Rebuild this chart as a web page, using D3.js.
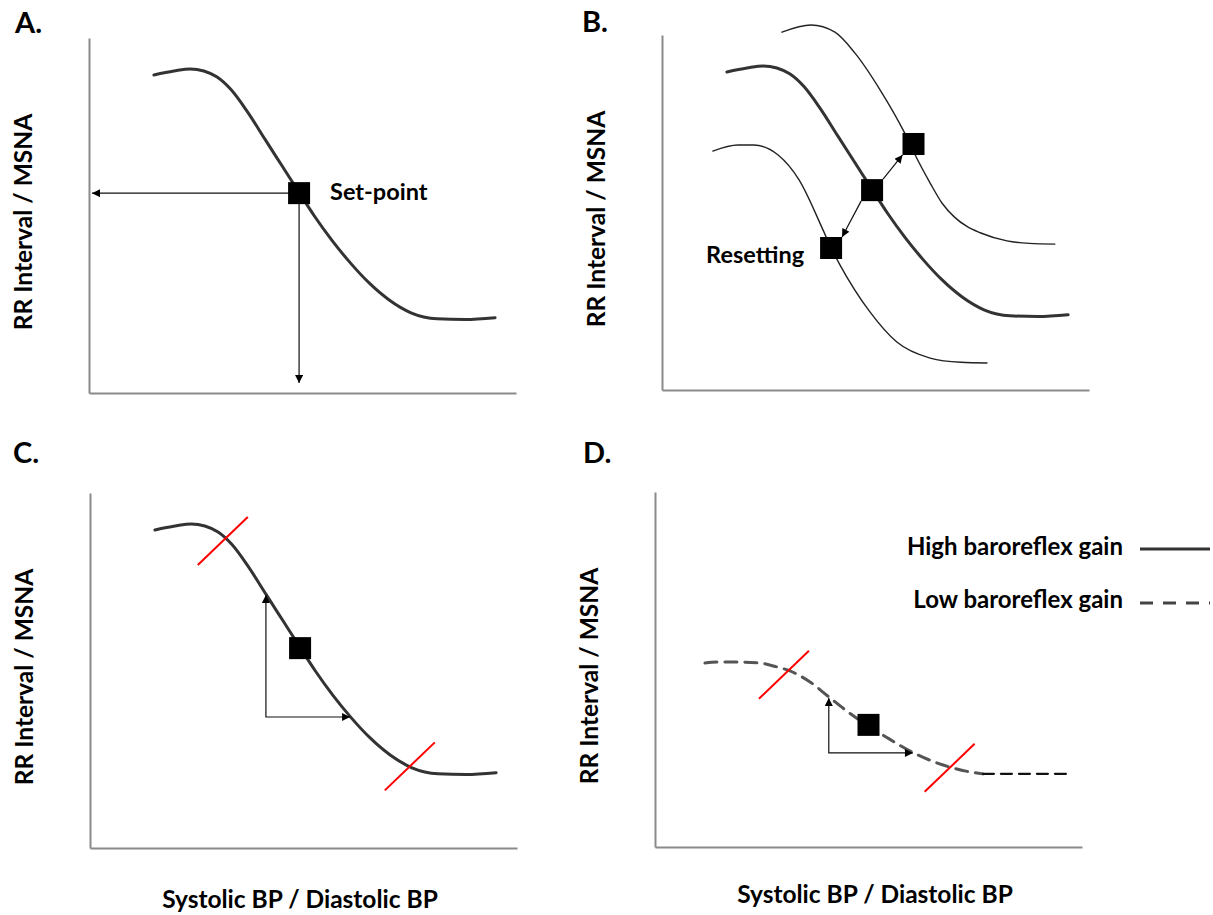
<!DOCTYPE html>
<html>
<head>
<meta charset="utf-8">
<script src="https://cdn.jsdelivr.net/npm/d3@7"></script>
<style>
  body { margin: 0; background: #fff; }
  text { font-family: Lato, 'Open Sans', sans-serif; font-weight: 700; fill: #000; }
</style>
</head>
<body>
<div id="chart"></div>
<script>
// all values in arbitrary units, 0-100 on both axes of every panel
const baseCurve = [[15.2,89.6],[19.9,90.7],[23.7,91.3],[26.9,90.7],[30.0,89.0],[33.3,85.4],[37.0,79.4],
	[41.2,71.5],[45.2,64.0],[49.2,56.5],[52.7,50.0],[56.9,43.0],[61.1,36.8],[65.6,31.0],[70.3,26.2],
	[75.4,22.6],[81.5,20.9],[88.1,20.7],[95.1,21.2]]
const setPoint = [49.2, 56.3]
const setPointArrows = [[0.7, 56.3], [49.2, 2.8]]

const upperCurve = [[28.1,100.8],[34.9,102.8],[40.5,100.8],[45.2,94.9],[51.1,84.5],[56.7,72.7],[58.1,69.3],
	[59.3,66.2],[62.8,58.3],[65.6,52.6],[68.5,48.7],[71.5,46.0],[74.5,44.3],[80.8,42.0],[86.0,41.3],[92.0,41.1]]
const lowerCurve = [[11.9,67.3],[17.8,69.0],[21.5,69.0],[27.2,66.2],[32.1,59.2],[37.7,45.1],[39.6,40.0],
	[41.7,35.2],[48.7,22.0],[55.0,13.5],[62.8,9.0],[70.0,7.8],[76.1,7.6]]
const resetPoints = [[58.9, 69.3], [39.6, 40.0]]

const rangeMarksC = [[31.1, 86.5], [74.9, 23.0]]
const gainStepC = [[41.2, 71.3], [41.2, 36.9], [60.9, 36.9]]

const lowGainCurve = [[11.7,51.8],[14.5,52.1],[19.4,52.1],[24.6,51.8],[28.6,50.7],[31.6,49.6],[36.3,46.5],
	[41.0,42.0],[45.7,37.6],[54.1,31.0],[60.4,26.6],[65.1,24.1],[69.1,22.5],[73.1,21.3],[76.8,20.6]]
const lowGainTail = [[76.8, 20.6], [96.5, 20.6]]
const lowGainPoint = [50.0, 34.4]
const rangeMarksD = [[30.2, 48.5], [69.0, 22.3]]
const gainStepD = [[40.7, 42.0], [40.7, 26.5], [60.4, 26.5]]

const legendLabels = ['High baroreflex gain', 'Low baroreflex gain']
const yTitle = 'RR Interval / MSNA'
const xTitle = 'Systolic BP / Diastolic BP'

const W = 427, H = 355, SQ = 22

const panels = [
	{id: 'A.', left: 89, top: 38, letter: [15, 33]},
	{id: 'B.', left: 662, top: 35, letter: [582, 32]},
	{id: 'C.', left: 90, top: 493, letter: [13, 463], xLabel: [300, 908]},
	{id: 'D.', left: 655, top: 492, letter: [583, 463], xLabel: [875, 903]}
]

const svg = d3.select('#chart').append('svg')
	.attr('width', 1213)
	.attr('height', 915)

svg.append('defs').append('marker')
	.attr('id', 'head')
	.attr('viewBox', '0 0 10 10')
	.attr('refX', 10).attr('refY', 5)
	.attr('markerWidth', 9).attr('markerHeight', 8)
	.attr('markerUnits', 'userSpaceOnUse')
	.attr('orient', 'auto-start-reverse')
	.append('path')
	.attr('d', 'M0,0L10,5L0,10Z')
	.attr('fill', '#000')

panels.forEach(p => {
	p.x = d3.scaleLinear().domain([0, 100]).range([p.left, p.left + W])
	p.y = d3.scaleLinear().domain([0, 100]).range([p.top + H, p.top])
	p.g = svg.append('g')

	p.g.append('g')
		.attr('transform', `translate(0,${p.y(0)})`)
		.call(d3.axisBottom(p.x).ticks(0).tickSizeOuter(0))
	p.g.append('g')
		.attr('transform', `translate(${p.x(0)},0)`)
		.call(d3.axisLeft(p.y).ticks(0).tickSizeOuter(0))
	p.g.selectAll('.domain').attr('stroke', '#8a8a8a').attr('stroke-width', 2)

	p.g.append('text')
		.attr('x', p.letter[0]).attr('y', p.letter[1])
		.attr('font-size', 29)
		.text(p.id)

	p.g.append('text')
		.attr('transform', `translate(${p.left - 57},${p.top + 184}) rotate(-90)`)
		.attr('text-anchor', 'middle')
		.attr('font-size', 24.5)
		.text(yTitle)

	if(p.xLabel) {
		p.g.append('text')
			.attr('x', p.xLabel[0]).attr('y', p.xLabel[1])
			.attr('text-anchor', 'middle')
			.attr('font-size', 24.5)
			.text(xTitle)
	}
})

const lineFor = p => d3.line().x(d => p.x(d[0])).y(d => p.y(d[1])).curve(d3.curveMonotoneX)

function curve(p, data, width, color, dash) {
	p.g.append('path')
		.datum(data)
		.attr('d', lineFor(p))
		.attr('fill', 'none')
		.attr('stroke', color)
		.attr('stroke-width', width)
		.attr('stroke-linecap', 'round')
		.attr('stroke-dasharray', dash || null)
}

function square(p, d) {
	p.g.append('rect')
		.attr('x', p.x(d[0]) - SQ / 2)
		.attr('y', p.y(d[1]) - SQ / 2)
		.attr('width', SQ).attr('height', SQ)
		.attr('fill', '#000')
}

function arrowPath(p, pts, both) {
	p.g.append('path')
		.attr('d', d3.line()(pts))
		.attr('fill', 'none')
		.attr('stroke', '#111')
		.attr('stroke-width', 1.2)
		.attr('marker-end', 'url(#head)')
		.attr('marker-start', both ? 'url(#head)' : null)
}

function marks(p, data) {
	p.g.selectAll(null)
		.data(data)
		.enter()
		.append('line')
		.attr('x1', d => p.x(d[0]) - 25).attr('y1', d => p.y(d[1]) + 24)
		.attr('x2', d => p.x(d[0]) + 25).attr('y2', d => p.y(d[1]) - 24)
		.attr('stroke', '#ff0000')
		.attr('stroke-width', 2)
}

const [pa, pb, pc, pd] = panels

// A. set-point
curve(pa, baseCurve, 3, '#333')
setPointArrows.forEach(t => arrowPath(pa, [[pa.x(setPoint[0]), pa.y(setPoint[1])], [pa.x(t[0]), pa.y(t[1])]]))
square(pa, setPoint)
pa.g.append('text')
	.attr('x', pa.x(setPoint[0]) + SQ / 2 + 20)
	.attr('y', pa.y(setPoint[1]) + 7)
	.attr('font-size', 23.5)
	.text('Set-point')

// B. resetting
curve(pb, upperCurve, 1.4, '#222')
curve(pb, baseCurve, 3, '#333')
curve(pb, lowerCurve, 1.4, '#222')
resetPoints.forEach(t => {
	const sx = pb.x(setPoint[0]), sy = pb.y(setPoint[1])
	const tx = pb.x(t[0]), ty = pb.y(t[1])
	const dx = Math.sign(tx - sx) * SQ / 2, dy = Math.sign(ty - sy) * SQ / 2
	arrowPath(pb, [[sx + dx, sy + dy], [tx - dx, ty - dy]])
})
square(pb, setPoint)
resetPoints.forEach(t => square(pb, t))
pb.g.append('text')
	.attr('x', pb.x(resetPoints[1][0]) - SQ / 2 - 16)
	.attr('y', pb.y(resetPoints[1][1]) + 15)
	.attr('text-anchor', 'end')
	.attr('font-size', 23.5)
	.text('Resetting')

// C. high gain
curve(pc, baseCurve, 3, '#333')
marks(pc, rangeMarksC)
arrowPath(pc, gainStepC.map(d => [pc.x(d[0]), pc.y(d[1])]), true)
square(pc, setPoint)

// D. low gain
curve(pd, lowGainCurve, 3, '#555', '12,8')
curve(pd, lowGainTail, 2.2, '#111', '11,7')
marks(pd, rangeMarksD)
arrowPath(pd, gainStepD.map(d => [pd.x(d[0]), pd.y(d[1])]), true)
square(pd, lowGainPoint)

const legend = pd.g.append('g')
legend.selectAll('text')
	.data(legendLabels)
	.enter()
	.append('text')
	.attr('x', 1123)
	.attr('y', (d, i) => 555 + i * 53)
	.attr('text-anchor', 'end')
	.attr('font-size', 24)
	.text(d => d)
legend.selectAll('line')
	.data(legendLabels)
	.enter()
	.append('line')
	.attr('x1', 1140).attr('x2', 1210)
	.attr('y1', (d, i) => 549 + i * 54).attr('y2', (d, i) => 549 + i * 54)
	.attr('stroke', (d, i) => i ? '#444' : '#333')
	.attr('stroke-width', 3)
	.attr('stroke-dasharray', (d, i) => i ? '13,10' : null)
</script>
</body>
</html>
